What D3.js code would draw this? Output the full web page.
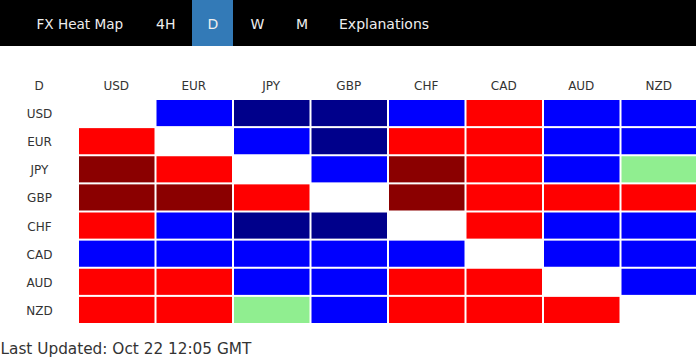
<!DOCTYPE html>
<html>
<head>
<meta charset="utf-8">
<script src="https://cdn.jsdelivr.net/npm/d3@7"></script>
<style>
  html, body { margin: 0; padding: 0; background: #fff; }
  svg { display: block; }
</style>
</head>
<body>
<svg id="chart" width="696" height="360"></svg>
<script>
// ---- data ----
const navItems = ["FX Heat Map", "4H", "D", "W", "M", "Explanations"];
const activeNav = "D";
const timeframe = "D";
const currencies = ["USD", "EUR", "JPY", "GBP", "CHF", "CAD", "AUD", "NZD"];
// strength levels: 2 strong up, 1 up, 0 flat, -1 down, -2 strong down, null = same pair
const rowUSD = [null, 1, 2, 2, 1, -1, 1, 1];
const rowEUR = [-1, null, 1, 2, -1, -1, 1, 1];
const rowJPY = [-2, -1, null, 1, -2, -1, 1, 0];
const rowGBP = [-2, -2, -1, null, -2, -1, -1, -1];
const rowCHF = [-1, 1, 2, 2, null, -1, 1, 1];
const rowCAD = [1, 1, 1, 1, 1, null, 1, 1];
const rowAUD = [-1, -1, 1, 1, -1, -1, null, 1];
const rowNZD = [-1, -1, 0, 1, -1, -1, -1, null];
const rows = [rowUSD, rowEUR, rowJPY, rowGBP, rowCHF, rowCAD, rowAUD, rowNZD];
const levels = [2, 1, 0, -1, -2];
const levelColors = ["#00008b", "#0000ff", "#90ee90", "#ff0000", "#8b0000"];
const updatedText = "Last Updated: Oct 22 12:05 GMT";

// ---- drawing ----
const svg = d3.select("#chart");
const font = "DejaVu Sans, Verdana, sans-serif";

// nav bar
svg.append("rect").attr("x", 0).attr("y", 0).attr("width", 696).attr("height", 46).attr("fill", "#000");
const navX = [36.5, 156, 207.5, 250.5, 296, 339];
const navG = svg.append("g");
navItems.forEach((t, i) => {
  if (t === activeNav) {
    navG.append("rect").attr("x", 192).attr("y", 0).attr("width", 41).attr("height", 46).attr("fill", "#337ab7");
  }
  navG.append("text").attr("x", navX[i]).attr("y", 29).text(t)
    .attr("font-family", font).attr("font-size", i === 0 ? 13.6 : 14).attr("fill", "#eeeeee");
});

const color = d3.scaleOrdinal().domain(levels).range(levelColors);
const x = d3.scaleBand().domain(currencies).range([78, 698]);
const y = d3.scaleBand().domain(currencies).range([99, 324]);

// column headers
svg.append("text").attr("x", 39).attr("y", 90).attr("text-anchor", "middle").text(timeframe)
  .attr("font-family", font).attr("font-size", 12).attr("fill", "#333");
svg.append("g").selectAll("text").data(currencies).join("text")
  .attr("x", d => x(d) + x.bandwidth() / 2 - 0.5)
  .attr("y", 90).attr("text-anchor", "middle").text(d => d)
  .attr("font-family", font).attr("font-size", 12).attr("fill", "#333");

// row labels
svg.append("g").selectAll("text").data(currencies).join("text")
  .attr("x", 39.5)
  .attr("y", d => y(d) + y.bandwidth() / 2 + 5)
  .attr("text-anchor", "middle").text(d => d)
  .attr("font-family", font).attr("font-size", 12).attr("fill", "#333");

// cells
const cells = [];
rows.forEach((r, i) => r.forEach((v, j) => cells.push({ row: currencies[i], col: currencies[j], v })));
svg.append("g").selectAll("rect").data(cells.filter(d => d.v !== null)).join("rect")
  .attr("x", d => x(d.col) + 1)
  .attr("y", d => y(d.row) + 1)
  .attr("width", x.bandwidth() - 2)
  .attr("height", y.bandwidth() - 2)
  .attr("fill", d => color(d.v));

// footer
svg.append("text").attr("x", 0.5).attr("y", 354).text(updatedText)
  .attr("font-family", font).attr("font-size", 15.3).attr("fill", "#333");
</script>
</body>
</html>
